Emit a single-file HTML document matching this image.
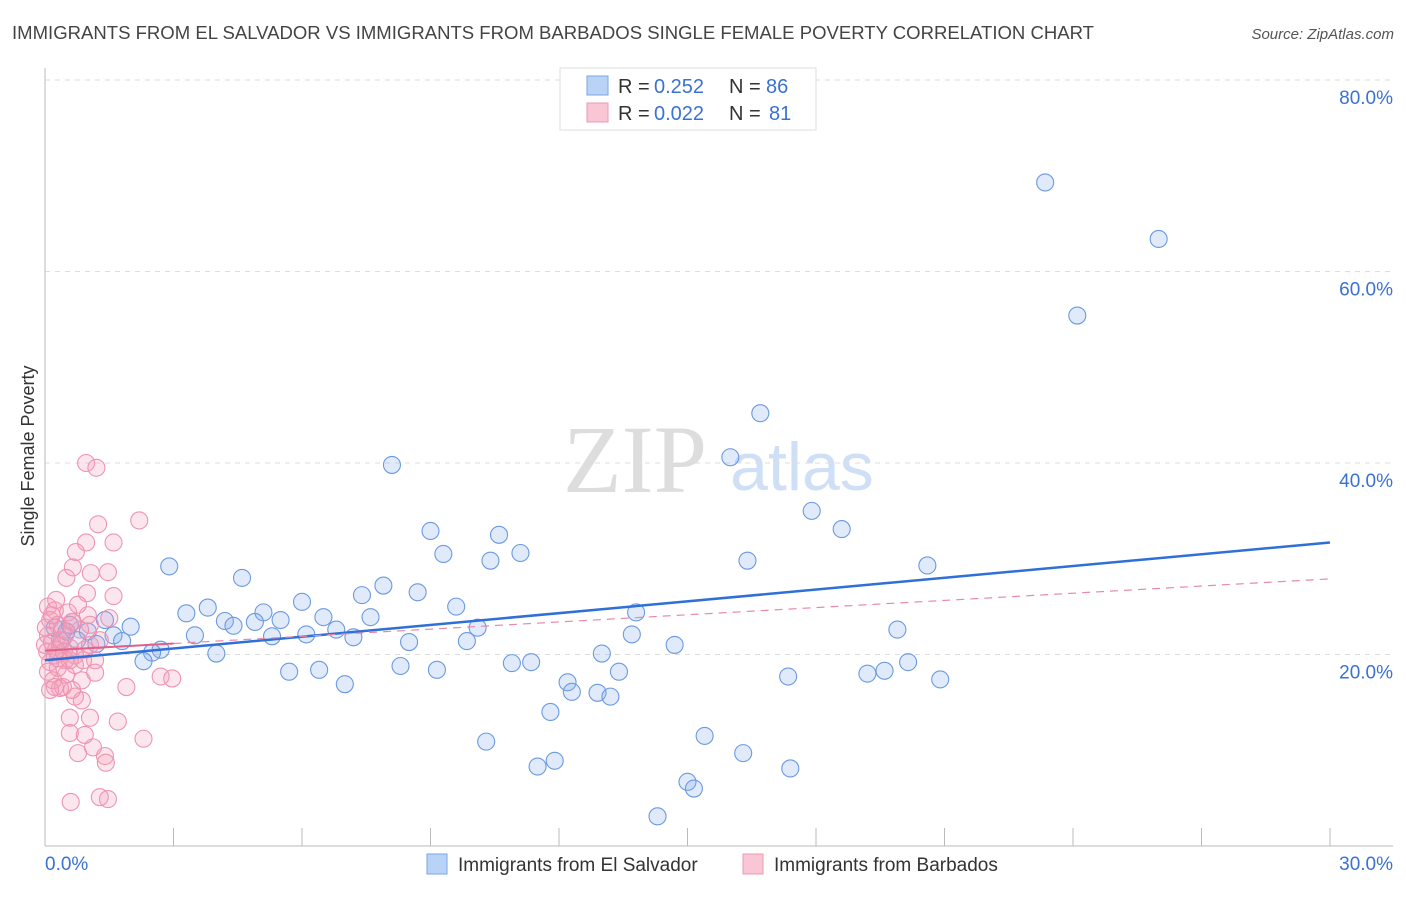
<!DOCTYPE html>
<html><head><meta charset="utf-8"><style>
body{margin:0;background:#fff;font-family:"Liberation Sans",sans-serif;}
</style></head><body>
<svg id="chart" width="1406" height="892" xmlns="http://www.w3.org/2000/svg" font-family="Liberation Sans, sans-serif">
<text x="12" y="39" font-size="18.5" fill="#444" textLength="1082" lengthAdjust="spacingAndGlyphs">IMMIGRANTS FROM EL SALVADOR VS IMMIGRANTS FROM BARBADOS SINGLE FEMALE POVERTY CORRELATION CHART</text>
<text x="1394" y="39" font-size="15" fill="#555" text-anchor="end" font-style="italic">Source: ZipAtlas.com</text>
<text transform="translate(34,456) rotate(-90)" font-size="18" fill="#333" text-anchor="middle">Single Female Poverty</text>
<g>
<text x="635" y="492" font-size="96" fill="#ddd" text-anchor="middle" font-family="Liberation Serif, serif">ZIP</text>
<text x="802" y="490" font-size="68" fill="#cfe0f6" text-anchor="middle">atlas</text>
</g>
<g id="grid"></g>
<g id="axes"></g>
<g id="pts"></g>
<g id="lines"></g>
<g>
<rect x="560" y="68" width="256" height="62" fill="#fff" stroke="#ddd"/>
<rect x="587" y="76" width="21" height="19" fill="#b9d3f6" stroke="#7aa5e6"/>
<rect x="587" y="103" width="21" height="19" fill="#f8c6d5" stroke="#ee9ab5"/>
<text x="618" y="93" font-size="20" fill="#333">R =</text>
<text x="654" y="93" font-size="20" fill="#3a72d2">0.252</text>
<text x="729" y="93" font-size="20" fill="#333">N =</text>
<text x="766" y="93" font-size="20" fill="#3a72d2">86</text>
<text x="618" y="120" font-size="20" fill="#333">R =</text>
<text x="654" y="120" font-size="20" fill="#3a72d2">0.022</text>
<text x="729" y="120" font-size="20" fill="#333">N =</text>
<text x="769" y="120" font-size="20" fill="#3a72d2">81</text>
</g>
<g>
<rect x="427" y="854" width="20" height="20" fill="#b9d3f6" stroke="#7aa5e6"/>
<text x="458" y="871" font-size="19" fill="#333">Immigrants from El Salvador</text>
<rect x="743" y="854" width="20" height="20" fill="#f8c6d5" stroke="#ee9ab5"/>
<text x="774" y="871" font-size="19" fill="#333">Immigrants from Barbados</text>
</g>
</svg>
<script>
const yTicks=[20,40,60,80];
const xTickLabels=["0.0%","30.0%"];
const blueX=[23.35,26.0,24.1,16.7,16.0,8.1,17.9,18.6,9.0,10.6,9.3,11.1,10.4,16.4,20.6,2.9,4.6,7.9,7.4,8.7,6.0,3.8,9.6,13.8,3.3,5.1,6.5,7.6,4.2,4.9,5.5,4.4,2.0,1.4,10.1,3.5,6.1,6.8,7.2,5.3,13.7,19.9,1.6,1.0,0.5,0.75,8.5,9.85,1.8,1.2,2.7,2.5,4.0,14.7,13.0,2.3,10.9,11.35,20.15,5.7,6.4,8.3,9.15,13.4,17.35,19.2,19.6,20.9,7.0,12.2,12.3,12.9,13.2,11.8,10.3,15.4,16.3,11.5,11.9,17.4,15.0,15.15,14.3,0.35,0.23,0.58];
const blueY=[69.3,63.4,55.4,45.2,40.6,39.8,35.0,33.1,32.9,32.5,30.5,30.6,29.8,29.8,29.3,29.2,28.0,27.2,26.2,26.5,25.5,24.9,25.0,24.4,24.3,24.4,23.9,23.9,23.5,23.4,23.6,23.0,22.9,23.6,22.8,22.0,22.1,22.6,21.8,21.9,22.1,22.6,22.0,22.4,22.4,21.5,21.3,21.4,21.4,21.1,20.5,20.2,20.1,21.0,20.1,19.3,19.1,19.2,19.2,18.2,18.4,18.8,18.4,18.2,17.7,18.0,18.3,17.4,16.9,17.1,16.1,16.0,15.6,14.0,10.9,11.5,9.7,8.3,8.9,8.1,6.7,6.0,3.1,21.5,22.8,23.1];
const pinkX=[0.96,1.2,1.24,2.2,1.6,0.96,0.72,0.65,0.5,1.07,1.47,0.98,1.6,1.5,0.65,1.05,1.17,1.9,2.7,2.97,0.86,0.7,0.86,0.42,0.23,0.58,1.05,0.58,0.93,1.7,2.3,1.12,0.77,1.4,1.42,0.6,1.28,1.47,0.07,0.23,0.12,0.3,0.4,0.07,0.16,0.35,0.58,0.05,0.23,0.47,0.7,0.12,0.3,0.07,0.49,0.93,1.17,0.82,0.54,0.26,0.4,0.63,0.02,0.19,1.05,1.28,0.3,0.7,0,0.47,1.0,0.16,0.77,0.35,0.63,0.89,0.12,0.26,0.44,0.58];
const pinkY=[40.0,39.5,33.6,34.0,31.7,31.7,30.7,29.1,28.0,28.5,28.6,26.4,26.1,23.8,23.4,23.1,18.1,16.6,17.7,17.5,17.3,15.6,15.2,16.6,16.6,13.4,13.4,11.8,11.6,13.0,11.2,10.3,9.7,9.4,8.7,4.6,5.1,4.9,25.0,24.6,23.6,23.1,22.6,22.0,21.3,21.0,20.7,20.3,19.9,19.4,19.9,19.2,18.6,18.2,17.9,20.5,19.4,22.6,24.4,25.7,21.5,23.4,22.8,17.3,21.0,21.5,19.6,18.9,21.0,22.0,24.1,24.1,25.2,16.5,16.3,19.4,16.3,20.5,20.3,19.4];
const blueFit=[19.4,31.7];
const pinkFit=[20.4,27.9];
const NS="http://www.w3.org/2000/svg";
const X0=45,X1=1330,Y0=846,YPER=9.575;
function sx(v){return X0+(v/30)*(X1-X0);}
function sy(v){return Y0-v*YPER;}
function mk(tag,attrs,parent){const e=document.createElementNS(NS,tag);for(const k in attrs)e.setAttribute(k,attrs[k]);document.getElementById(parent).appendChild(e);return e;}
yTicks.forEach(t=>{
  const g=mk('line',{x1:45,x2:1393,y1:sy(t),y2:sy(t),stroke:'#ddd','stroke-dasharray':'5,5'},'grid');
  
  
  const l=mk('text',{x:1393,y:sy(t)+24,'font-size':19,fill:'#3a72d2','text-anchor':'end'},'grid');
  
  
  l.textContent=t.toFixed(1)+'%';
});
const ax=mk('line',{x1:45,x2:45,y1:68,y2:846,stroke:'#bbb'},'axes');


const bx=mk('line',{x1:45,x2:1393,y1:846,y2:846,stroke:'#bbb'},'axes');


for(let i=1;i<=10;i++){
  const t=mk('line',{x1:sx(i*3),x2:sx(i*3),y1:828,y2:846,stroke:'#bbb'},'axes');
  
  
}
[[0,'start',45],[30,'end',1393]].forEach((p,i)=>{
  const t=mk('text',{x:p[2],y:870,'font-size':19,fill:'#3a72d2','text-anchor':p[1]},'axes');
  
  
  t.textContent=xTickLabels[i];
});
blueX.forEach((x,i)=>{
  const c=mk('circle',{cx:sx(x),cy:sy(blueY[i]),r:8.5,fill:'rgba(130,170,235,0.25)',stroke:'#6a9ae2','stroke-width':1.1},'pts');
  
  
});
pinkX.forEach((x,i)=>{
  const c=mk('circle',{cx:sx(x),cy:sy(pinkY[i]),r:8.5,fill:'rgba(245,155,185,0.25)',stroke:'#ee94b2','stroke-width':1.1},'pts');
  
  
});
const bl=mk('line',{x1:sx(0),y1:sy(blueFit[0]),x2:sx(30),y2:sy(blueFit[1]),stroke:'#2f6fd8','stroke-width':2.5},'lines');


const pm=pinkFit[0]+(pinkFit[1]-pinkFit[0])*(3/30);
const ps=mk('line',{x1:sx(0),y1:sy(pinkFit[0]),x2:sx(3),y2:sy(pm),stroke:'#e0608a','stroke-width':2},'lines');


const pl=mk('line',{x1:sx(3),y1:sy(pm),x2:sx(30),y2:sy(pinkFit[1]),stroke:'#e889a8','stroke-width':1.2,'stroke-dasharray':'8,6'},'lines');


</script>
</body></html>
